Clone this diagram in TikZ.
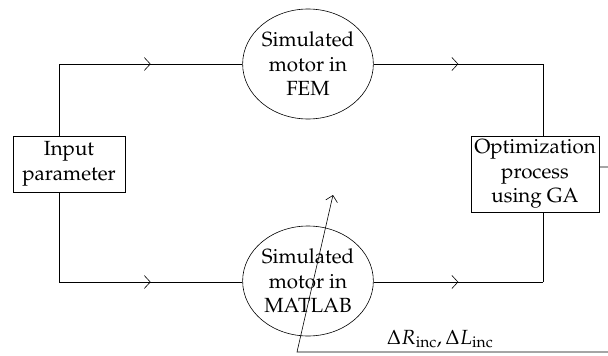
\documentclass[tikz,border=0pt]{standalone}
\usepackage[T1]{fontenc}
\usepackage{mathpazo}
\usepackage{tikz}
\usetikzlibrary{arrows.meta,positioning,shapes.geometric,calc,decorations.markings}

\begin{document}
\begin{tikzpicture}[x=1pt, y=-1pt, line width=0.6pt,
    every node/.style={font=\fontsize{20.5}{24.5}\selectfont},
    blockbox/.style={draw, rectangle, align=center, inner sep=0pt},
    motorell/.style={draw, ellipse, align=center, inner sep=0pt, minimum width=128pt, minimum height=110pt},
    midarr/.style={postaction={decorate}, decoration={markings,
        mark=at position 0.5 with {\arrow{Straight Barb[length=6pt,width=13pt]}}}}]
    \useasboundingbox (0,0) rectangle (608,356);
    \node[blockbox, minimum width=112pt, minimum height=56pt] (inp) at (69,164) {Input\\parameter};
    \node[motorell] (fem) at (308,64) {Simulated\\motor in\\FEM};
    \node[motorell] (mat) at (308,281) {Simulated\\motor in\\MATLAB};
    \node[blockbox, minimum width=128pt, minimum height=76pt] (opt) at (535,174) {Optimization\\process\\using GA};
    % corners of the two branches
    \coordinate (tl) at (59,64);
    \coordinate (bl) at (59,282);
    \coordinate (tr) at (543,64);
    \coordinate (br) at (543,282);
    \draw (tl |- inp.north) -- (tl);
    \draw[midarr] (tl) -- (fem.west);
    \draw (bl |- inp.south) -- (bl);
    \draw[midarr] (bl) -- (mat.west |- bl);
    \draw[midarr] (fem.east) -- (tr);
    \draw (tr) -- (tr |- opt.north);
    \draw[midarr] (mat.east |- br) -- (br);
    \draw (br) -- (br |- opt.south);
    % feedback to the MATLAB model
    \coordinate (fbr) at (610,167);
    \coordinate (fbb) at (610,352);
    \coordinate (adj) at (297,352);
    \coordinate (adjtip) at (333,195);
    \draw[-{Straight Barb[length=6pt,width=12pt]}] (opt.east |- fbr) -- (fbr) -- (fbb) -- (adj) -- (adjtip);
    \node (dlab) at (440,339) {$\Delta R_{\mathrm{inc}}, \Delta L_{\mathrm{inc}}$};
\end{tikzpicture}
\end{document}
